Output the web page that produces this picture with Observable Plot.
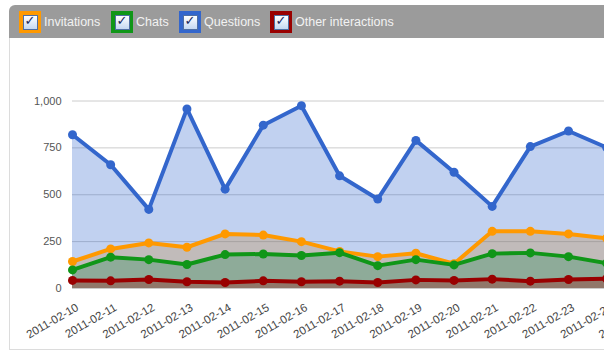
<!DOCTYPE html>
<html>
<head>
<meta charset="utf-8">
<script src="https://cdn.jsdelivr.net/npm/d3@7"></script>
<script src="https://cdn.jsdelivr.net/npm/@observablehq/plot@0.6"></script>
<style>
  html, body { margin: 0; padding: 0; width: 604px; height: 360px; overflow: hidden; background: #fff; font-family: "Liberation Sans", Arial, sans-serif; }
  #header { position: absolute; left: 9px; top: 5px; width: 600px; height: 33px; background: #9b9b9b; border-radius: 6px 0 0 0; }
  #panel { position: absolute; left: 9px; top: 38px; width: 600px; height: 311px; border-left: 1px solid #dcdcdc; border-bottom: 1px solid #dcdcdc; }
  .item { position: absolute; top: 11px; height: 22px; display: flex; align-items: center; }
  .sw { width: 22px; height: 22px; display: flex; align-items: center; justify-content: center; }
  .cb { width: 13px; height: 13px; border: 1px solid #4f6fa3; background: linear-gradient(#ffffff, #c4d8f2); position: relative; }
  .cb::after { content: "\2713"; position: absolute; left: 1px; top: -3px; font-family: "DejaVu Sans"; font-weight: bold; font-size: 13px; color: #18285c; }
  .lbl { margin-left: 3px; color: #f2f2f2; font-size: 12.5px; }
  #chart { position: absolute; left: 0; top: 38px; }
</style>
</head>
<body>
<div id="header"></div>
<div id="panel"></div>
<div id="legend"></div>
<div id="chart"></div>
<script>
const dates = ["2011-02-10","2011-02-11","2011-02-12","2011-02-13","2011-02-14","2011-02-15","2011-02-16","2011-02-17","2011-02-18","2011-02-19","2011-02-20","2011-02-21","2011-02-22","2011-02-23","2011-02-24"];
const tickDates = ["2011-02-10","2011-02-11","2011-02-12","2011-02-13","2011-02-14","2011-02-15","2011-02-16","2011-02-17","2011-02-18","2011-02-19","2011-02-20","2011-02-21","2011-02-22","2011-02-23","2011-02-24","2011-02-25"];
const invitations = [144, 211, 243, 220, 291, 285, 250, 198, 170, 188, 132, 305, 305, 291, 268];
const chats       = [99, 167, 154, 128, 181, 184, 176, 191, 122, 154, 126, 186, 190, 170, 135];
const questions   = [820, 660, 422, 958, 530, 871, 975, 601, 477, 790, 620, 438, 757, 840, 752];
const other       = [43, 41, 48, 36, 32, 41, 36, 39, 32, 46, 43, 50, 39, 48, 52];
const yTicks = [0, 250, 500, 750, 1000];

const seriesNames = ["Invitations", "Chats", "Questions", "Other interactions"];
const seriesValues = [invitations, chats, questions, other];
const seriesColors = ["#ff9900", "#109618", "#3366cc", "#990000"];

// legend
const legendX = [19, 111, 179, 270];
const legend = document.getElementById("legend");
seriesNames.forEach((name, i) => {
  const it = document.createElement("div");
  it.className = "item";
  it.style.left = legendX[i] + "px";
  it.innerHTML = `<div class="sw" style="background:${seriesColors[i]}"><div class="cb"></div></div><span class="lbl">${name}</span>`;
  legend.appendChild(it);
});

const parse = d3.utcParse("%Y-%m-%d");
const series = seriesNames.map((name, i) => dates.map((d, j) => ({date: parse(d), value: seriesValues[i][j], series: name})));

const marks = [
  Plot.gridY(yTicks, {stroke: "#cccccc", strokeOpacity: 1, strokeWidth: 1})
];
series.forEach((s, i) => {
  marks.push(Plot.areaY(s, {x: "date", y: "value", fill: seriesColors[i], fillOpacity: 0.3}));
});
series.forEach((s, i) => {
  marks.push(Plot.lineY(s, {x: "date", y: "value", stroke: seriesColors[i], strokeWidth: 4, strokeLinejoin: "round"}));
  marks.push(Plot.dot(s, {x: "date", y: "value", fill: seriesColors[i], r: 4.5}));
});
marks.push(Plot.axisY(yTicks, {tickSize: 0, tickPadding: 11, tickFormat: d3.format(","), fontSize: 11, fill: "#555", label: null}));
marks.push(Plot.axisX(tickDates.map(parse), {tickSize: 0, tickPadding: 18, tickRotate: -30, tickFormat: d3.utcFormat("%Y-%m-%d"), fontSize: 11.5, fill: "#444", dx: 5, label: null}));

const chart = Plot.plot({
  width: 604,
  height: 312,
  marginLeft: 72,
  marginRight: 0,
  marginTop: 62.5,
  marginBottom: 62,
  style: {fontFamily: "Liberation Sans, Arial, sans-serif", overflow: "hidden", background: "transparent"},
  x: {type: "utc", domain: [parse("2011-02-10"), parse("2011-02-25")], range: [72, 644.3], label: null},
  y: {domain: [0, 1000], label: null},
  marks
});
document.getElementById("chart").appendChild(chart);
</script>
</body>
</html>
